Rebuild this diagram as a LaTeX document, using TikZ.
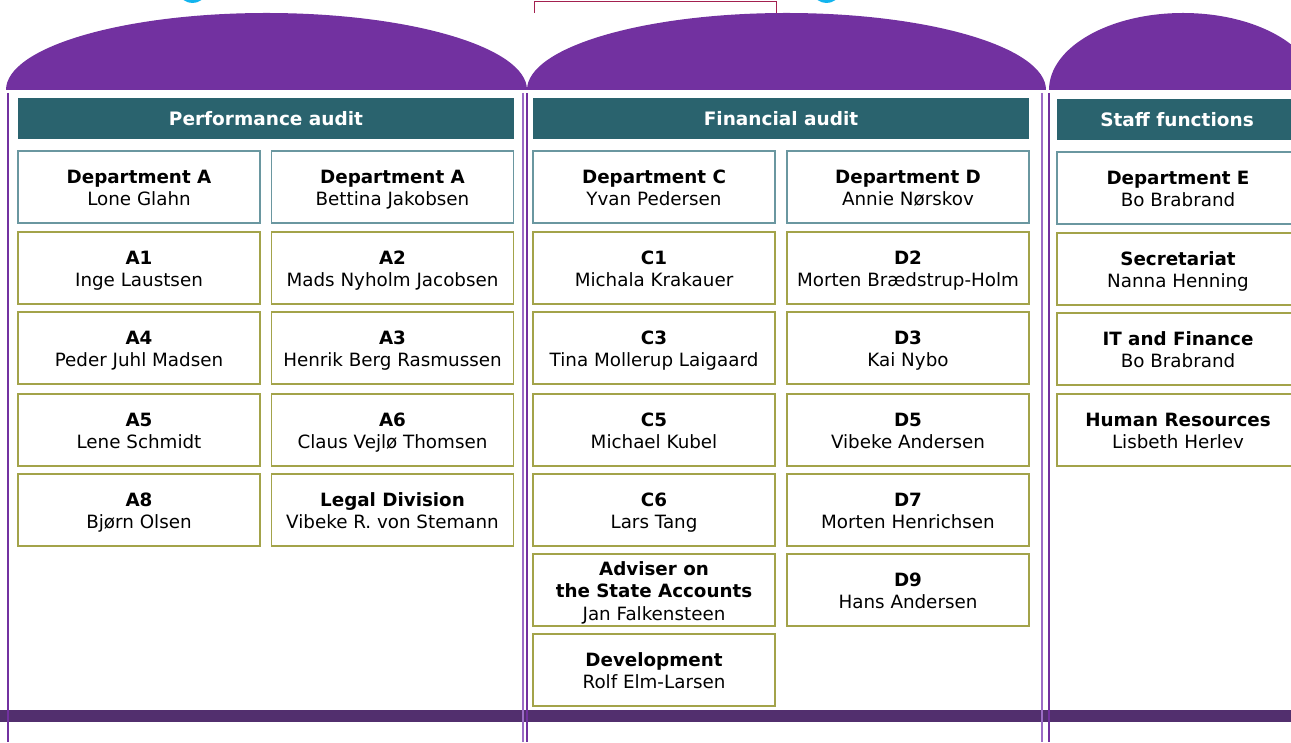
\documentclass[tikz,border=0pt]{standalone}
\usepackage{fontspec}
\setmainfont{DejaVu Sans}
\usepackage{xcolor}
\definecolor{domepurple}{HTML}{7231A0}
\definecolor{linelilac}{HTML}{9C6CC6}
\definecolor{barpurple}{HTML}{522F6E}
\definecolor{headteal}{HTML}{2A636E}
\definecolor{deptline}{HTML}{6A97A0}
\definecolor{unitline}{HTML}{A3A34A}
\definecolor{framered}{HTML}{A3204F}
\definecolor{logocyan}{HTML}{12B4EE}
% title and name, with fixed top and bottom so every box sits alike
\newcommand{\unitlabel}[2]{\rule{0pt}{19.5pt}\textbf{#1}\\#2\rule[-4pt]{0pt}{4pt}}

\begin{document}
\begin{tikzpicture}[x=1pt, y=1pt, font=\fontsize{18.3}{22.5}\selectfont,
		headbar/.style={fill=headteal, text=white, font=\fontsize{18.5}{22}\selectfont\bfseries, minimum width=496pt, minimum height=41pt, inner sep=0pt},
		deptbox/.style={draw=deptline, line width=1.2pt, fill=white, minimum width=242pt, minimum height=72pt, align=center, inner sep=0pt},
		unitbox/.style={deptbox, draw=unitline}]
			\useasboundingbox (0,0) rectangle (1291,742);
			\clip (0,0) rectangle (1291,742);

			% Logo pieces and frame peeking in at the top
			\fill[logocyan] (192.5,748) ellipse [x radius=12, y radius=9];
			\fill[logocyan] (826.5,748) ellipse [x radius=12, y radius=9];
			\draw[framered, line width=1pt] (534,729) -- (534,740) -- (776,740) -- (776,729);

			% Draw the three domes
			\fill[domepurple] (6,652) arc[start angle=180, end angle=0, x radius=260.5, y radius=77] -- cycle;
			\fill[domepurple] (527,652) arc[start angle=180, end angle=0, x radius=259.5, y radius=77] -- cycle;
			\fill[domepurple] (1049,652) arc[start angle=180, end angle=0, x radius=134, y radius=77] -- cycle;

			% Bottom bar
			\fill[barpurple] (0,20) rectangle (1291,32);

			% Column borders
			\draw[domepurple, line width=2pt] (8,649) -- (8,0);
			\draw[linelilac, line width=1.5pt] (523,649) -- (523,0);
			\draw[domepurple, line width=2pt] (527,649) -- (527,0);
			\draw[linelilac, line width=1.5pt] (1042,649) -- (1042,0);
			\draw[domepurple, line width=2pt] (1049,649) -- (1049,0);

			% Column headings
			\node[headbar] (perf) at (266,623.5) {Performance audit};
			\node[headbar] (fin) at (781,623.5) {Financial audit};
			\node[headbar, minimum width=240pt] (staff) at (1177,622.5) {Staff functions};

			% Performance audit
			\node[deptbox] (depA) at (139,555) {\unitlabel{Department A}{Lone Glahn}};
			\node[deptbox] (depAb) at (392.5,555) {\unitlabel{Department A}{Bettina Jakobsen}};
			\node[unitbox] (a1) at (139,474) {\unitlabel{A1}{Inge Laustsen}};
			\node[unitbox] (a2) at (392.5,474) {\unitlabel{A2}{Mads Nyholm Jacobsen}};
			\node[unitbox] (a4) at (139,394) {\unitlabel{A4}{Peder Juhl Madsen}};
			\node[unitbox] (a3) at (392.5,394) {\unitlabel{A3}{Henrik Berg Rasmussen}};
			\node[unitbox] (a5) at (139,312) {\unitlabel{A5}{Lene Schmidt}};
			\node[unitbox] (a6) at (392.5,312) {\unitlabel{A6}{Claus Vejlø Thomsen}};
			\node[unitbox] (a8) at (139,232) {\unitlabel{A8}{Bjørn Olsen}};
			\node[unitbox] (legal) at (392.5,232) {\unitlabel{Legal Division}{Vibeke R. von Stemann}};

			% Financial audit
			\node[deptbox] (depC) at (654,555) {\unitlabel{Department C}{Yvan Pedersen}};
			\node[deptbox] (depD) at (908,555) {\unitlabel{Department D}{Annie Nørskov}};
			\node[unitbox] (c1) at (654,474) {\unitlabel{C1}{Michala Krakauer}};
			\node[unitbox] (d2) at (908,474) {\unitlabel{D2}{Morten Brædstrup-Holm}};
			\node[unitbox] (c3) at (654,394) {\unitlabel{C3}{Tina Mollerup Laigaard}};
			\node[unitbox] (d3) at (908,394) {\unitlabel{D3}{Kai Nybo}};
			\node[unitbox] (c5) at (654,312) {\unitlabel{C5}{Michael Kubel}};
			\node[unitbox] (d5) at (908,312) {\unitlabel{D5}{Vibeke Andersen}};
			\node[unitbox] (c6) at (654,232) {\unitlabel{C6}{Lars Tang}};
			\node[unitbox] (d7) at (908,232) {\unitlabel{D7}{Morten Henrichsen}};
			\node[unitbox] (adviser) at (654,152) {\rule{0pt}{19.5pt}\textbf{Adviser on}\\\textbf{the State Accounts}\\Jan Falkensteen\rule[-4pt]{0pt}{4pt}};
			\node[unitbox] (d9) at (908,152) {\unitlabel{D9}{Hans Andersen}};
			\node[unitbox] (devel) at (654,72) {\unitlabel{Development}{Rolf Elm-Larsen}};

			% Staff functions
			\node[deptbox] (depE) at (1178,554) {\unitlabel{Department E}{Bo Brabrand}};
			\node[unitbox] (secr) at (1178,473) {\unitlabel{Secretariat}{Nanna Henning}};
			\node[unitbox] (itfin) at (1178,393) {\unitlabel{IT and Finance}{Bo Brabrand}};
			\node[unitbox] (hr) at (1178,312) {\unitlabel{Human Resources}{Lisbeth Herlev}};
		\end{tikzpicture}
\end{document}
